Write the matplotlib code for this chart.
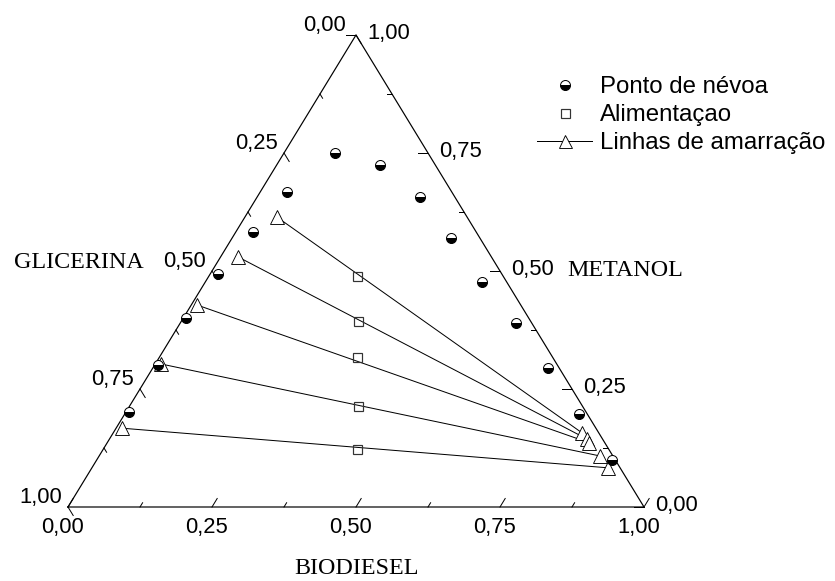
import numpy as np
import matplotlib
matplotlib.use("Agg")
import matplotlib.pyplot as plt
from matplotlib.lines import Line2D

# ---- data (mass fractions: biodiesel, metanol; glicerina = 1 - both) ----
nevoa_biodiesel = [0.005, 0.006, 0.005, 0.013, 0.030, 0.047, 0.089, 0.179,
                   0.283, 0.380, 0.480, 0.583, 0.686, 0.789, 0.895]
nevoa_metanol = [0.201, 0.301, 0.400, 0.494, 0.583, 0.667, 0.750, 0.725,
                 0.657, 0.570, 0.477, 0.390, 0.294, 0.197, 0.100]

# tie lines: glycerol-rich end, biodiesel-rich end
amarr_glic_biodiesel = [0.056, 0.030, 0.010, 0.010, 0.010]
amarr_glic_metanol = [0.614, 0.530, 0.428, 0.303, 0.167]
amarr_bio_biodiesel = [0.814, 0.829, 0.837, 0.870, 0.896]
amarr_bio_metanol = [0.157, 0.144, 0.136, 0.108, 0.083]

# feed compositions
alim_biodiesel = [0.257, 0.306, 0.343, 0.396, 0.441]
alim_metanol = [0.489, 0.394, 0.318, 0.214, 0.123]

tick_values = [0.0, 0.125, 0.25, 0.375, 0.5, 0.625, 0.75, 0.875, 1.0]
label_values = [0.0, 0.25, 0.5, 0.75, 1.0]
tick_labels = ["0,00", "0,25", "0,50", "0,75", "1,00"]

SANS = ["Liberation Sans", "DejaVu Sans"]
SERIF = ["Liberation Serif", "DejaVu Serif"]


def tern(b, m):
    """Ternary (biodiesel, metanol) -> cartesian."""
    b = np.asarray(b, dtype=float)
    m = np.asarray(m, dtype=float)
    return b + m / 2.0, m


W, H = 835, 581
fig = plt.figure(figsize=(W / 72, H / 72), dpi=72)
ax = fig.add_axes([68 / W, 74 / H, 576 / W, 472 / H])
ax.set_xlim(0, 1)
ax.set_ylim(0, 1)
ax.axis("off")

# triangle frame
fx, fy = tern([0, 1, 0, 0], [0, 0, 1, 0])
ax.plot(fx, fy, color="black", lw=1.2, clip_on=False, solid_joinstyle="miter")

# ticks along lines of constant composition, pointing inward
for v in tick_values:
    major = abs(v * 4 - round(v * 4)) < 1e-9
    L = 0.018 if major else 0.009
    # bottom (biodiesel)
    x, y = tern([v, v], [0, L])
    ax.plot(x, y, color="black", lw=1.0, clip_on=False)
    # right (metanol)
    L2 = L * 553 / 576
    x, y = tern([1 - v, 1 - v - L2], [v, v])
    ax.plot(x, y, color="black", lw=1.0, clip_on=False)
    # left (glicerina)
    x, y = tern([0, L], [1 - v, 1 - v - L])
    ax.plot(x, y, color="black", lw=1.0, clip_on=False)

# tick labels
for v, s in zip(label_values, tick_labels):
    x, y = tern(v, 0)
    ax.annotate(s, (x, y), xytext=(-5, -21), textcoords="offset points",
                ha="center", va="center", fontsize=22, family=SANS)
    x, y = tern(1 - v, v)
    ax.annotate(s, (x, y), xytext=(11, 1), textcoords="offset points",
                ha="left", va="center", fontsize=22, family=SANS)
    x, y = tern(0, 1 - v)
    dx = -10 if v == 0 else -6
    ax.annotate(s, (x, y), xytext=(dx, 9), textcoords="offset points",
                ha="right", va="center", fontsize=22, family=SANS)

# axis titles
fig.text(14 / W, 1 - 263 / H, "GLICERINA", ha="left", va="center",
         fontsize=24, family=SERIF)
fig.text(567 / W, 1 - 270 / H, "METANOL", ha="left", va="center",
         fontsize=24, family=SERIF)
fig.text(357 / W, 1 - 569 / H, "BIODIESEL", ha="center", va="center",
         fontsize=24, family=SERIF)

# tie lines
for bl, ml, br, mr in zip(amarr_glic_biodiesel, amarr_glic_metanol,
                          amarr_bio_biodiesel, amarr_bio_metanol):
    x, y = tern([bl, br], [ml, mr])
    ax.plot(x, y, color="black", lw=1.0, zorder=2, clip_on=False)

tri_kw = dict(marker="^", ms=14, mfc="white", mec="black", mew=0.9,
              ls="none", zorder=3, clip_on=False)
x, y = tern(amarr_glic_biodiesel, amarr_glic_metanol)
ax.plot(x, y, **tri_kw)
x, y = tern(amarr_bio_biodiesel, amarr_bio_metanol)
ax.plot(x, y, **tri_kw)

# feed points
sq_kw = dict(marker="s", ms=9, mfc="none", mec="#333333", mew=1.2,
             ls="none", zorder=4, clip_on=False)
x, y = tern(alim_biodiesel, alim_metanol)
ax.plot(x, y, **sq_kw)

# cloud points
circ_kw = dict(marker="o", ms=10, fillstyle="bottom", mfc="black",
               mfcalt="white", mec="black", mew=1.0, ls="none", zorder=5,
               clip_on=False)
x, y = tern(nevoa_biodiesel, nevoa_metanol)
ax.plot(x, y, **circ_kw)

# legend
handles = [
    Line2D([], [], **{k: v for k, v in circ_kw.items() if k not in ("zorder", "clip_on")}),
    Line2D([], [], **{k: v for k, v in sq_kw.items() if k not in ("zorder", "clip_on")}),
    Line2D([], [], color="black", lw=1.0, marker="^", ms=13, mfc="white",
           mec="black", mew=0.9),
]
labels = ["Ponto de névoa", "Alimentaçao", "Linhas de amarração"]
fig.legend(handles, labels, loc="upper left",
           bbox_to_anchor=(537 / W, 1 - 76 / H), bbox_transform=fig.transFigure,
           frameon=False, numpoints=1, handlelength=2.3, handletextpad=0.33,
           labelspacing=0.25, borderpad=0, borderaxespad=0,
           prop={"family": SANS, "size": 24})

fig.savefig("out.png", dpi=72)
